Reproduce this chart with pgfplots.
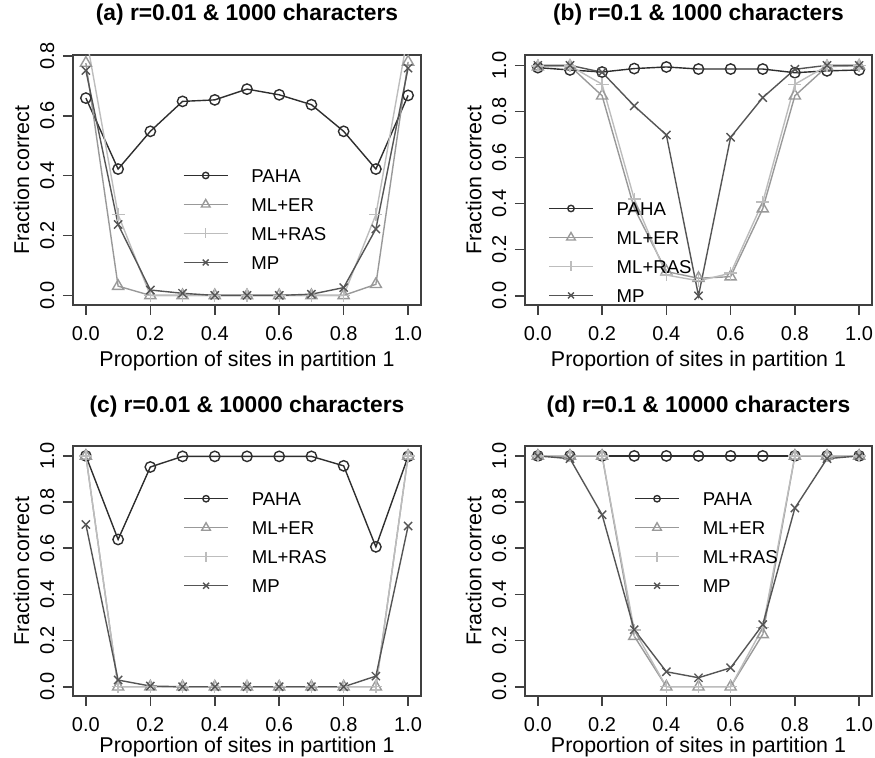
\documentclass[border=0pt]{standalone}
\usepackage{fontspec}
\setmainfont{Liberation Sans}
\usepackage{pgfplots}
\pgfplotsset{compat=1.18}

\definecolor{cPAHA}{HTML}{2E2E2E}
\definecolor{cER}{HTML}{999999}
\definecolor{cRAS}{HTML}{BDBDBD}
\definecolor{cMP}{HTML}{555555}
\definecolor{cAxis}{HTML}{404040}

\pgfplotsset{
  rpanel/.style={
    scale only axis,
    width=174pt, height=125pt,
    xmin=-0.04, xmax=1.04,
    xtick={0,0.2,0.4,0.6,0.8,1},
    xticklabels={0.0,0.2,0.4,0.6,0.8,1.0},
    tick align=outside, tick pos=left,
    major tick length=5pt,
    axis line style={cAxis, line width=0.75pt},
    every tick/.style={cAxis, line width=0.75pt},
    tick label style={font=\fontsize{10}{12}\selectfont},
    /pgf/number format/assume math mode=true,
    xticklabel style={anchor=north, inner sep=0pt},
    xticklabel shift=5.4pt,
    yticklabel style={rotate=90, anchor=south, inner sep=0pt},
    yticklabel shift=4.2pt,
    title style={at={(0.5,1.112)}, anchor=center,
      font=\bfseries\fontsize{11.4}{13}\selectfont},
    xlabel={Proportion of sites in partition 1},
    ylabel={Fraction correct},
    label style={font=\fontsize{10.7}{12}\selectfont},
    xlabel style={at={(axis description cs:0.5,-0.225)}, anchor=center},
    ylabel style={at={(axis description cs:-0.148,0.5)}, anchor=center},
    legend cell align=left,
    legend style={draw=none, fill=none, inner sep=0pt,
      font=\fontsize{9.3}{11}\selectfont,
      row sep=7.9pt, column sep=11.5pt,
      nodes={inner sep=0pt, text height=6.6pt, text depth=0pt}},
    legend image code/.code={
      \draw[mark repeat=2, mark phase=2, #1]
        plot coordinates {(0pt,0pt) (11pt,0pt) (22pt,0pt)};},
  },
  paha/.style={cPAHA, line width=0.7pt, mark=o, mark size=2.6pt,
    mark options={solid, fill=none},
    legend image post style={mark size=1.6pt}},
  mler/.style={cER, line width=0.7pt, mark=triangle, mark size=3.2pt,
    mark options={solid, fill=none},
    legend image post style={mark size=2.5pt}},
  mlras/.style={cRAS, line width=0.7pt, mark=+, mark size=3.2pt,
    legend image post style={mark size=2.5pt}},
  mp/.style={cMP, line width=0.7pt, mark=x, mark size=2.9pt,
    legend image post style={mark size=2.1pt}},
}

\begin{document}
\begin{tikzpicture}

% (a)
\begin{axis}[rpanel,
  at={(36.5pt,226.5pt)}, anchor=south west,
  title={(a) r=0.01 \& 1000 characters},
  ymin=-0.032, ymax=0.803,
  ytick={0,0.2,0.4,0.6,0.8},
  yticklabels={0.0,0.2,0.4,0.6,0.8},
  legend style={at={(axis description cs:0.315,0.546)}, anchor=north west},
]
\addplot[paha] coordinates {(0,0.659)(0.1,0.422)(0.2,0.548)(0.3,0.648)(0.4,0.653)(0.5,0.689)(0.6,0.670)(0.7,0.637)(0.8,0.548)(0.9,0.422)(1,0.668)};
\addplot[mler] coordinates {(0,0.776)(0.1,0.031)(0.2,0)(0.3,0)(0.4,0)(0.5,0)(0.6,0)(0.7,0)(0.8,0)(0.9,0.037)(1,0.780)};
\addplot[mlras] coordinates {(0,0.87)(0.1,0.27)(0.2,0)(0.3,0)(0.4,0)(0.5,0)(0.6,0)(0.7,0)(0.8,0)(0.9,0.27)(1,0.875)};
\addplot[mp] coordinates {(0,0.751)(0.1,0.237)(0.2,0.018)(0.3,0.007)(0.4,0)(0.5,0)(0.6,0)(0.7,0.004)(0.8,0.026)(0.9,0.222)(1,0.759)};
\legend{PAHA,ML+ER,ML+RAS,MP}
\end{axis}

% (b)
\begin{axis}[rpanel,
  at={(262.5pt,226.5pt)}, anchor=south west, width=173.5pt,
  title={(b) r=0.1 \& 1000 characters},
  ymin=-0.04, ymax=1.045,
  ytick={0,0.2,0.4,0.6,0.8,1},
  yticklabels={0.0,0.2,0.4,0.6,0.8,1.0},
  legend style={at={(axis description cs:0.066,0.414)}, anchor=north west},
]
\addplot[paha] coordinates {(0,0.990)(0.1,0.980)(0.2,0.971)(0.3,0.986)(0.4,0.993)(0.5,0.984)(0.6,0.984)(0.7,0.984)(0.8,0.968)(0.9,0.976)(1,0.980)};
\addplot[mler] coordinates {(0,0.994)(0.1,0.997)(0.2,0.868)(0.3,0.38)(0.4,0.105)(0.5,0.076)(0.6,0.083)(0.7,0.378)(0.8,0.868)(0.9,0.995)(1,0.998)};
\addplot[mlras] coordinates {(0,0.998)(0.1,0.998)(0.2,0.918)(0.3,0.42)(0.4,0.09)(0.5,0.065)(0.6,0.098)(0.7,0.407)(0.8,0.918)(0.9,0.998)(1,0.999)};
\addplot[mp] coordinates {(0,1.0)(0.1,1.0)(0.2,0.97)(0.3,0.824)(0.4,0.698)(0.5,0.0)(0.6,0.688)(0.7,0.86)(0.8,0.983)(0.9,1.0)(1,1.0)};
\legend{PAHA,ML+ER,ML+RAS,MP}
\end{axis}

% (c)
\begin{axis}[rpanel,
  at={(36.5pt,31pt)}, anchor=south west,
  title={(c) r=0.01 \& 10000 characters},
  title style={at={(0.5,1.108)}},
  xlabel style={at={(axis description cs:0.5,-0.205)}},
  ymin=-0.04, ymax=1.043,
  ytick={0,0.2,0.4,0.6,0.8,1},
  yticklabels={0.0,0.2,0.4,0.6,0.8,1.0},
  legend style={at={(axis description cs:0.316,0.817)}, anchor=north west},
]
\addplot[paha] coordinates {(0,1.0)(0.1,0.638)(0.2,0.952)(0.3,0.998)(0.4,0.998)(0.5,0.998)(0.6,0.998)(0.7,0.998)(0.8,0.957)(0.9,0.606)(1,0.998)};
\addplot[mler] coordinates {(0,1.0)(0.1,0)(0.2,0)(0.3,0)(0.4,0)(0.5,0)(0.6,0)(0.7,0)(0.8,0)(0.9,0)(1,1.0)};
\addplot[mlras] coordinates {(0,1.0)(0.1,0)(0.2,0)(0.3,0)(0.4,0)(0.5,0)(0.6,0)(0.7,0)(0.8,0)(0.9,0)(1,1.0)};
\addplot[mp] coordinates {(0,0.703)(0.1,0.029)(0.2,0.003)(0.3,0)(0.4,0)(0.5,0)(0.6,0)(0.7,0)(0.8,0)(0.9,0.046)(1,0.696)};
\legend{PAHA,ML+ER,ML+RAS,MP}
\end{axis}

% (d)
\begin{axis}[rpanel,
  at={(262.5pt,31pt)}, anchor=south west, width=173.5pt,
  title={(d) r=0.1 \& 10000 characters},
  title style={at={(0.5,1.108)}},
  xlabel style={at={(axis description cs:0.5,-0.205)}},
  ymin=-0.04, ymax=1.043,
  ytick={0,0.2,0.4,0.6,0.8,1},
  yticklabels={0.0,0.2,0.4,0.6,0.8,1.0},
  legend style={at={(axis description cs:0.314,0.817)}, anchor=north west},
]
\addplot[paha] coordinates {(0,1)(0.1,1)(0.2,1)(0.3,1)(0.4,1)(0.5,1)(0.6,1)(0.7,1)(0.8,1)(0.9,1)(1,1)};
\addplot[mler] coordinates {(0,1)(0.1,1)(0.2,1)(0.3,0.219)(0.4,0)(0.5,0)(0.6,0)(0.7,0.227)(0.8,1)(0.9,1)(1,1)};
\addplot[mlras] coordinates {(0,1)(0.1,1)(0.2,1)(0.3,0.245)(0.4,0)(0.5,0)(0.6,0)(0.7,0.256)(0.8,1)(0.9,1)(1,1)};
\addplot[mp] coordinates {(0,1)(0.1,0.988)(0.2,0.745)(0.3,0.247)(0.4,0.065)(0.5,0.039)(0.6,0.082)(0.7,0.269)(0.8,0.774)(0.9,0.988)(1,1)};
\legend{PAHA,ML+ER,ML+RAS,MP}
\end{axis}

\pgfresetboundingbox
\path[use as bounding box] (0pt,0pt) rectangle (437.5pt,379pt);
\end{tikzpicture}
\end{document}
